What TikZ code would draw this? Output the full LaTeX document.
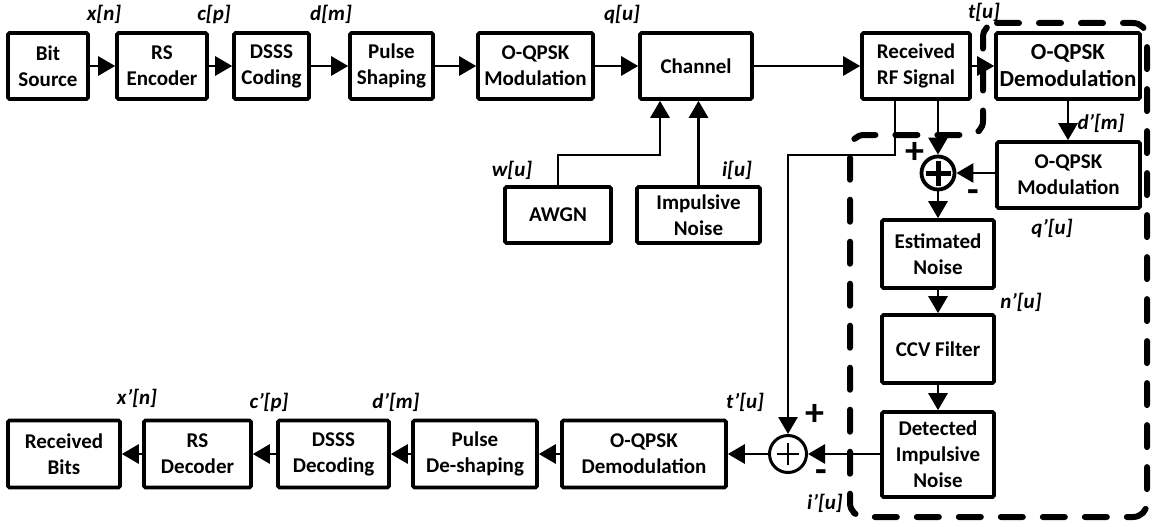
\documentclass[tikz,border=0pt]{standalone}
\usepackage{fontspec}
\setmainfont{Carlito}
\usetikzlibrary{arrows.meta}
\begin{document}
\begin{tikzpicture}[x=1pt,y=-1pt,
  blk/.style={draw, line width=3.6pt, rounded corners=1.5pt, align=center, inner sep=0pt,
              font=\fontsize{21}{26}\selectfont\bfseries},
  sig/.style={font=\fontsize{21}{24}\selectfont\bfseries\itshape, inner sep=0pt},
  arr/.style={line width=2.8pt, -{Triangle[length=17pt,width=19pt]}},
  pm/.style={font=\fontsize{38}{38}\selectfont\bfseries, inner sep=0pt},
  zone/.style={line width=6pt, line cap=round, dash pattern=on 22pt off 20pt, rounded corners=14pt}
]
\useasboundingbox (0,0) rectangle (1153,527);

% transmitter chain
\node[blk, minimum width=80pt,  minimum height=66pt] (bits)  at (48,66)    {Bit\\Source};
\node[blk, minimum width=90pt,  minimum height=66pt] (rsenc) at (162,66)   {RS\\Encoder};
\node[blk, minimum width=75pt,  minimum height=66pt] (dsss)  at (271.5,66) {DSSS\\Coding};
\node[blk, minimum width=83pt,  minimum height=66pt] (pulse) at (391.5,66) {Pulse\\Shaping};
\node[blk, minimum width=115pt, minimum height=66pt] (mod)   at (535.5,66) {O-QPSK\\Modulation};
\node[blk, minimum width=112pt, minimum height=66pt] (chan)  at (696,66)   {Channel};
\node[blk, minimum width=108pt, minimum height=66pt] (rf)    at (916,66)   {Received\\RF Signal};

% noise sources
\node[blk, minimum width=106pt, minimum height=56pt] (awgn) at (558,215)   {AWGN};
\node[blk, minimum width=123pt, minimum height=56pt] (imp)  at (698.5,215) {Impulsive\\Noise};

% impulsive noise estimator
\node[blk, minimum width=144pt, minimum height=66pt, font=\fontsize{23}{27}\selectfont\bfseries]
      (demod) at (1068,66) {O-QPSK\\Demodulation};
\node[blk, minimum width=143pt, minimum height=66pt] (remod) at (1068.5,175) {O-QPSK\\Modulation};
\node[blk, minimum width=112pt, minimum height=68pt] (est)   at (938,254)   {Estimated\\Noise};
\node[blk, minimum width=112pt, minimum height=68pt] (ccv)   at (938,349)   {CCV Filter};
\node[blk, minimum width=112pt, minimum height=85pt] (det)   at (938,454.5) {Detected\\Impulsive\\Noise};

% receiver chain
\node[blk, minimum width=164pt, minimum height=67pt] (demod2) at (644,454)   {O-QPSK\\Demodulation};
\node[blk, minimum width=124pt, minimum height=67pt] (deshp)  at (475,454)   {Pulse\\De-shaping};
\node[blk, minimum width=111pt, minimum height=67pt] (dsssd)  at (333.5,454) {DSSS\\Decoding};
\node[blk, minimum width=107pt, minimum height=67pt] (rsdec)  at (197.5,454) {RS\\Decoder};
\node[blk, minimum width=112pt, minimum height=67pt] (rbits)  at (64,454)    {Received\\Bits};

% summing junctions
\node[circle, draw, line width=3.8pt, minimum size=33pt, inner sep=0pt] (s1) at (938,173) {};
\draw[line width=5pt] ([xshift=-12.5pt]s1.center) -- ([xshift=12.5pt]s1.center)
                      ([yshift=-12.5pt]s1.center) -- ([yshift=12.5pt]s1.center);
\node[circle, draw, line width=3pt, minimum size=37pt, inner sep=0pt] (s2) at (788,454) {};
\draw[line width=1.8pt] ([xshift=-11pt]s2.center) -- ([xshift=11pt]s2.center)
                        ([yshift=-11pt]s2.center) -- ([yshift=11pt]s2.center);

% helper points
\coordinate (tap) at (0,155);
\coordinate (cin) at ([xshift=-36pt]chan.south);
\coordinate (rfl) at ([xshift=-21pt]rf.south);

% transmitter connectors
\draw[arr] (bits) -- (rsenc);
\draw[arr] (rsenc) -- (dsss);
\draw[arr] (dsss) -- (pulse);
\draw[arr] (pulse) -- (mod);
\draw[arr] (mod) -- (chan);
\draw[arr] (chan) -- (rf);
\draw[arr] (rf) -- (demod);
\draw[arr] (awgn.north) |- (tap -| cin) -- (cin);
\draw[arr] (imp.north) -- (imp.north |- chan.south);

% estimator connectors
\draw[arr] (demod.south) -- (demod.south |- remod.north);
\draw[arr] (s1.east -| remod.west) -- (s1.east);
\draw[arr] (rf.south -| s1.north) -- (s1.north);
\draw[arr] (s1.south) -- (est.north);
\draw[arr] (est) -- (ccv);
\draw[arr] (ccv) -- (det);
\draw[arr] (rfl) |- (tap -| s2.north) -- (s2.north);
\draw[arr] (s2.east -| det.west) -- (s2.east);

% receiver connectors
\draw[arr] (s2.west) -- (s2.west -| demod2.east);
\draw[arr] (demod2) -- (deshp);
\draw[arr] (deshp) -- (dsssd);
\draw[arr] (dsssd) -- (rsdec);
\draw[arr] (rsdec) -- (rbits);

% signal names
\node[sig] (lx)  at (104,14)  {x[n]};
\node[sig] (lc)  at (214,14)  {c[p]};
\node[sig] (ld)  at (331,14)  {d[m]};
\node[sig] (lq)  at (622,14)  {q[u]};
\node[sig] (lt)  at (984,12)  {t[u]};
\node[sig] (lw)  at (512,170) {w[u]};
\node[sig] (li)  at (737,170) {i[u]};
\node[sig] (ld2) at (1101,123) {d’[m]};
\node[sig] (lq2) at (1052,228) {q’[u]};
\node[sig] (ln2) at (1021,302) {n’[u]};
\node[sig] (lx2) at (137,398) {x’[n]};
\node[sig] (lc2) at (269,402) {c’[p]};
\node[sig] (ld3) at (396,402) {d’[m]};
\node[sig] (lt2) at (745,402) {t’[u]};
\node[sig] (li2) at (825,503) {i’[u]};

% signs at the junctions
\node[pm] (p1) at (915,153) {+};
\node[pm] (m1) at (973,196) {-};
\node[pm] (p2) at (815,415) {+};
\node[pm] (m2) at (821,476) {-};

% estimator boundary
\draw[zone] (983,23) -- (1147,23) -- (1147,517) -- (850,517) -- (850,135) -- (983,135) -- cycle;
\end{tikzpicture}
\end{document}
